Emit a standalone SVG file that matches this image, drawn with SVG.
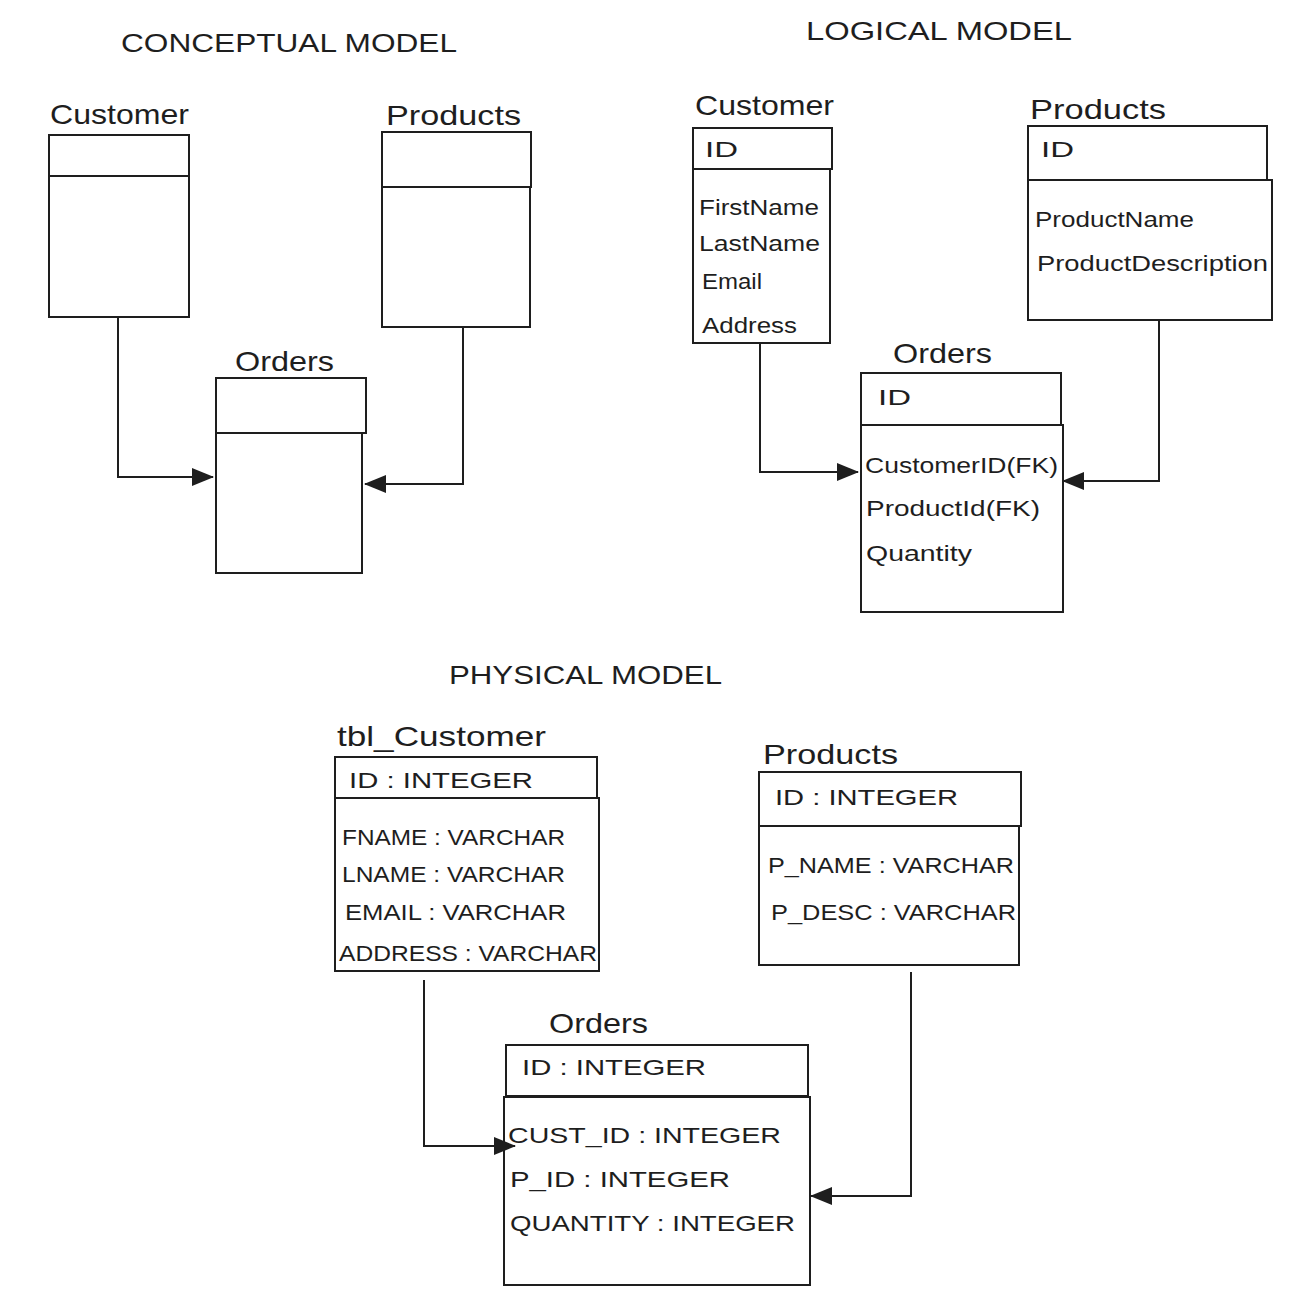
<svg xmlns="http://www.w3.org/2000/svg" width="1303" height="1313" viewBox="0 0 1303 1313">
<defs>
<style>
.bx{fill:#fff;stroke:#1e1e1e;stroke-width:2}
.ln{fill:none;stroke:#1e1e1e;stroke-width:2;marker-end:url(#ah)}
text{font-family:"Liberation Sans",Arial,sans-serif;fill:#1e1e1e}
.tt{font-size:26px}
.lb{font-size:28px}
.fd{font-size:22px}
</style>
<marker id="ah" markerUnits="userSpaceOnUse" markerWidth="22" markerHeight="18" viewBox="0 0 22 18" refX="21" refY="9" orient="auto">
<path d="M0,0 L22,9 L0,18 Z" fill="#1e1e1e"/>
</marker>
</defs>
<rect width="1303" height="1313" fill="#fff"/>
<g id="titles">
<text class="tt" x="121" y="52" textLength="336" lengthAdjust="spacingAndGlyphs">CONCEPTUAL MODEL</text>
<text class="tt" x="806" y="40" textLength="266" lengthAdjust="spacingAndGlyphs">LOGICAL MODEL</text>
<text class="tt" x="449" y="684" textLength="273" lengthAdjust="spacingAndGlyphs">PHYSICAL MODEL</text>
</g>
<g id="c-customer">
<text class="lb" x="50" y="124" textLength="139" lengthAdjust="spacingAndGlyphs">Customer</text>
<rect class="bx" x="49" y="135" width="140" height="41"/>
<rect class="bx" x="49" y="176" width="140" height="141"/>
</g>
<g id="c-products">
<text class="lb" x="386" y="125" textLength="135" lengthAdjust="spacingAndGlyphs">Products</text>
<rect class="bx" x="382" y="132" width="149" height="55"/>
<rect class="bx" x="382" y="187" width="148" height="140"/>
</g>
<g id="c-orders">
<text class="lb" x="235" y="371" textLength="99" lengthAdjust="spacingAndGlyphs">Orders</text>
<rect class="bx" x="216" y="378" width="150" height="55"/>
<rect class="bx" x="216" y="433" width="146" height="140"/>
</g>
<g id="l-customer">
<text class="lb" x="695" y="115" textLength="139" lengthAdjust="spacingAndGlyphs">Customer</text>
<rect class="bx" x="693" y="128" width="139" height="41"/>
<rect class="bx" x="693" y="169" width="137" height="174"/>
<text class="fd" x="705" y="157" textLength="33" lengthAdjust="spacingAndGlyphs">ID</text>
<text class="fd" x="699" y="215" textLength="120" lengthAdjust="spacingAndGlyphs">FirstName</text>
<text class="fd" x="699" y="251" textLength="121" lengthAdjust="spacingAndGlyphs">LastName</text>
<text class="fd" x="702" y="289" textLength="60" lengthAdjust="spacingAndGlyphs">Email</text>
<text class="fd" x="702" y="333" textLength="95" lengthAdjust="spacingAndGlyphs">Address</text>
</g>
<g id="l-products">
<text class="lb" x="1030" y="119" textLength="136" lengthAdjust="spacingAndGlyphs">Products</text>
<rect class="bx" x="1028" y="126" width="239" height="54"/>
<rect class="bx" x="1028" y="180" width="244" height="140"/>
<text class="fd" x="1041" y="157" textLength="33" lengthAdjust="spacingAndGlyphs">ID</text>
<text class="fd" x="1035" y="227" textLength="159" lengthAdjust="spacingAndGlyphs">ProductName</text>
<text class="fd" x="1037" y="271" textLength="231" lengthAdjust="spacingAndGlyphs">ProductDescription</text>
</g>
<g id="l-orders">
<text class="lb" x="893" y="363" textLength="99" lengthAdjust="spacingAndGlyphs">Orders</text>
<rect class="bx" x="861" y="373" width="200" height="52"/>
<rect class="bx" x="861" y="425" width="202" height="187"/>
<text class="fd" x="878" y="405" textLength="33" lengthAdjust="spacingAndGlyphs">ID</text>
<text class="fd" x="865" y="473" textLength="193" lengthAdjust="spacingAndGlyphs">CustomerID(FK)</text>
<text class="fd" x="866" y="516" textLength="174" lengthAdjust="spacingAndGlyphs">ProductId(FK)</text>
<text class="fd" x="866" y="561" textLength="106" lengthAdjust="spacingAndGlyphs">Quantity</text>
</g>
<g id="p-customer">
<text class="lb" x="337" y="746" textLength="209" lengthAdjust="spacingAndGlyphs">tbl_Customer</text>
<rect class="bx" x="335" y="757" width="262" height="41"/>
<rect class="bx" x="335" y="798" width="264" height="173"/>
<text class="fd" x="349" y="788" textLength="184" lengthAdjust="spacingAndGlyphs">ID : INTEGER</text>
<text class="fd" x="342" y="845" textLength="223" lengthAdjust="spacingAndGlyphs">FNAME : VARCHAR</text>
<text class="fd" x="342" y="882" textLength="223" lengthAdjust="spacingAndGlyphs">LNAME : VARCHAR</text>
<text class="fd" x="345" y="920" textLength="221" lengthAdjust="spacingAndGlyphs">EMAIL : VARCHAR</text>
<text class="fd" x="339" y="961" textLength="258" lengthAdjust="spacingAndGlyphs">ADDRESS : VARCHAR</text>
</g>
<g id="p-products">
<text class="lb" x="763" y="764" textLength="135" lengthAdjust="spacingAndGlyphs">Products</text>
<rect class="bx" x="759" y="772" width="262" height="54"/>
<rect class="bx" x="759" y="826" width="260" height="139"/>
<text class="fd" x="775" y="805" textLength="183" lengthAdjust="spacingAndGlyphs">ID : INTEGER</text>
<text class="fd" x="768" y="873" textLength="246" lengthAdjust="spacingAndGlyphs">P_NAME : VARCHAR</text>
<text class="fd" x="771" y="920" textLength="245" lengthAdjust="spacingAndGlyphs">P_DESC : VARCHAR</text>
</g>
<g id="p-orders">
<text class="lb" x="549" y="1033" textLength="99" lengthAdjust="spacingAndGlyphs">Orders</text>
<rect class="bx" x="506" y="1045" width="302" height="51"/>
<rect class="bx" x="504" y="1097" width="306" height="188"/>
<text class="fd" x="522" y="1075" textLength="184" lengthAdjust="spacingAndGlyphs">ID : INTEGER</text>
<text class="fd" x="508" y="1143" textLength="273" lengthAdjust="spacingAndGlyphs">CUST_ID : INTEGER</text>
<text class="fd" x="510" y="1187" textLength="220" lengthAdjust="spacingAndGlyphs">P_ID : INTEGER</text>
<text class="fd" x="510" y="1231" textLength="285" lengthAdjust="spacingAndGlyphs">QUANTITY : INTEGER</text>
</g>
<g id="connectors">
<path class="ln" d="M118,317 V477 H213"/>
<path class="ln" d="M463,327 V484 H365"/>
<path class="ln" d="M760,343 V472 H858"/>
<path class="ln" d="M1159,320 V481 H1063"/>
<path class="ln" d="M424,980 V1146 H515"/>
<path class="ln" d="M911,972 V1196 H811"/>
</g>
</svg>
